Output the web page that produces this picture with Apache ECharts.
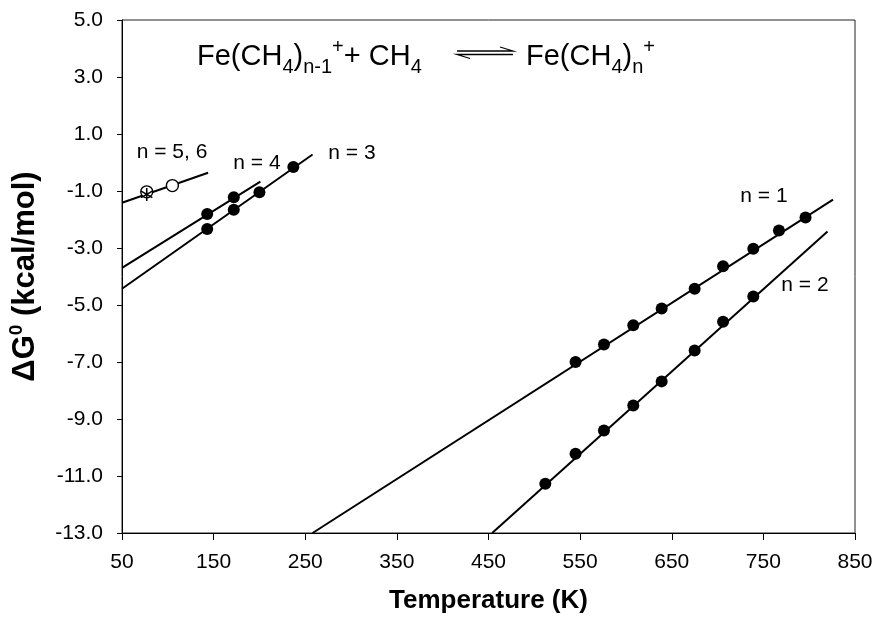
<!DOCTYPE html>
<html>
<head>
<meta charset="utf-8">
<script src="https://cdn.jsdelivr.net/npm/echarts@6/dist/echarts.min.js"></script>
<style>
html, body { margin: 0; padding: 0; background: #fff; }
#main { width: 878px; height: 619px; }
</style>
</head>
<body>
<div id="main"></div>
<script>
// measured points: temperature (K) and dG0 (kcal/mol)
var n1Temp = [545, 576, 608, 639, 675, 706, 739, 767, 796];
var n1Dg = [-7.00, -6.39, -5.71, -5.12, -4.43, -3.64, -3.03, -2.39, -1.93];
var n2Temp = [512, 545, 576, 608, 639, 675, 706, 739];
var n2Dg = [-11.27, -10.22, -9.40, -8.53, -7.68, -6.60, -5.59, -4.70];
var n3Temp = [143, 172, 200, 237];
var n3Dg = [-2.33, -1.66, -1.04, -0.16];
var n4Temp = [143, 172];
var n4Dg = [-1.81, -1.22];
var n5Temp = [77, 105];
var n5Dg = [-1.03, -0.81];
var n6Temp = [77];
var n6Dg = [-1.12];

// fitted lines, end points
var fit1 = [[258, -13], [826, -1.30]];
var fit2 = [[454, -13], [820, -2.42]];
var fit3 = [[50, -4.43], [258, 0.28]];
var fit4 = [[50, -3.70], [201, -0.67]];
var fit56 = [[50, -1.41], [144, -0.36]];

var curveNames = ['n = 1', 'n = 2', 'n = 3', 'n = 4', 'n = 5, 6'];

function pairs(xs, ys) {
	return xs.map(function (x, i) { return [x, ys[i]]; });
}

var font = "'Liberation Sans', Arial, sans-serif";
var asterisk = 'path://M-0.6,-5L0.6,-5L0.6,5L-0.6,5Z' +
	'M4.63,1.98L4.03,3.02L-4.63,-1.98L-4.03,-3.02Z' +
	'M-4.03,3.02L-4.63,1.98L4.03,-3.02L4.63,-1.98Z';

function fitLine(data) {
	return {
		type: 'line', data: data, showSymbol: false, silent: true,
		lineStyle: { color: '#000', width: 2 }, z: 2
	};
}
function dots(xs, ys) {
	return {
		type: 'scatter', data: pairs(xs, ys), symbol: 'circle', symbolSize: 12,
		itemStyle: { color: '#000', opacity: 1 }, z: 3
	};
}

var myChart = echarts.init(document.getElementById('main'));

var labelPos = [[764, 196], [805, 285], [352, 153], [257, 163], [172, 152]];

var graphics = labelPos.map(function (p, i) {
	return {
		type: 'text', x: p[0], y: p[1], z: 10,
		style: { text: curveNames[i], fill: '#000', font: '21px ' + font, align: 'center', verticalAlign: 'middle' }
	};
});

// reaction equation
var eqRich = {
	m: { fontSize: 29, fontFamily: font, lineHeight: 40, fill: '#000' },
	s: { fontSize: 20, fontFamily: font, lineHeight: 19, verticalAlign: 'bottom', fill: '#000' },
	p: { fontSize: 20, fontFamily: font, lineHeight: 19, verticalAlign: 'top', fill: '#000' }
};
graphics.push({
	type: 'text', x: 197, y: 57, z: 10,
	style: {
		text: '{m|Fe(CH}{s|4}{m|)}{s|n-1}{p|+}{m|+ CH}{s|4}',
		verticalAlign: 'middle', align: 'left', rich: eqRich
	}
});
graphics.push({
	type: 'text', x: 526, y: 57, z: 10,
	style: {
		text: '{m|Fe(CH}{s|4}{m|)}{s|n}{p|+}',
		verticalAlign: 'middle', align: 'left', rich: eqRich
	}
});
// equilibrium harpoons
graphics.push({
	type: 'polyline', z: 10,
	shape: { points: [[457, 51], [513, 51], [500, 47]] },
	style: { stroke: '#000', lineWidth: 1.3, fill: null }
});
graphics.push({
	type: 'polyline', z: 10,
	shape: { points: [[513, 54.5], [457, 54.5], [470, 58.5]] },
	style: { stroke: '#000', lineWidth: 1.3, fill: null }
});

myChart.setOption({
	backgroundColor: '#fff',
	animation: false,
	grid: {
		left: 122, right: 23, top: 20, bottom: 86,
		outerBoundsMode: 'none',
		show: true, borderColor: '#222', borderWidth: 1
	},
	xAxis: {
		type: 'value', min: 50, max: 850, interval: 100,
		name: 'Temperature (K)', nameLocation: 'middle', nameGap: 55,
		nameTextStyle: { fontFamily: font, fontSize: 26, fontWeight: 'bold', color: '#000' },
		axisLine: { onZero: false, lineStyle: { color: '#000', width: 1 } },
		axisTick: { inside: false, length: 7, lineStyle: { color: '#000' } },
		axisLabel: { fontFamily: font, fontSize: 21, color: '#000', margin: 19 },
		splitLine: { show: false }
	},
	yAxis: {
		type: 'value', min: -13, max: 5, interval: 2,
		name: '{b|ΔG}{sup|0}{b| (kcal/mol)}', nameLocation: 'middle', nameGap: 79, nameRotate: 90,
		nameTextStyle: {
			rich: {
				b: { fontFamily: font, fontSize: 31, fontWeight: 'bold', color: '#000', lineHeight: 36 },
				sup: { fontFamily: font, fontSize: 19, fontWeight: 'bold', color: '#000', lineHeight: 19, verticalAlign: 'top' }
			}
		},
		axisLine: { onZero: false, lineStyle: { color: '#000', width: 1 } },
		axisTick: { inside: false, length: 5, lineStyle: { color: '#000' } },
		axisLabel: {
			fontFamily: font, fontSize: 21, color: '#000', margin: 19,
			formatter: function (v) { return v.toFixed(1); }
		},
		splitLine: { show: false }
	},
	graphic: graphics,
	series: [
		fitLine(fit1), fitLine(fit2), fitLine(fit3), fitLine(fit4), fitLine(fit56),
		dots(n1Temp, n1Dg), dots(n2Temp, n2Dg), dots(n3Temp, n3Dg), dots(n4Temp, n4Dg),
		{
			type: 'scatter', data: pairs(n5Temp, n5Dg), symbol: 'circle', symbolSize: 12,
			itemStyle: { color: '#fff', borderColor: '#000', borderWidth: 1.4, opacity: 1 }, z: 4
		},
		{
			type: 'scatter', data: pairs(n6Temp, n6Dg), symbol: asterisk, symbolSize: [12, 13],
			itemStyle: { color: '#000', opacity: 1 }, z: 5
		}
	]
});
</script>
</body>
</html>
